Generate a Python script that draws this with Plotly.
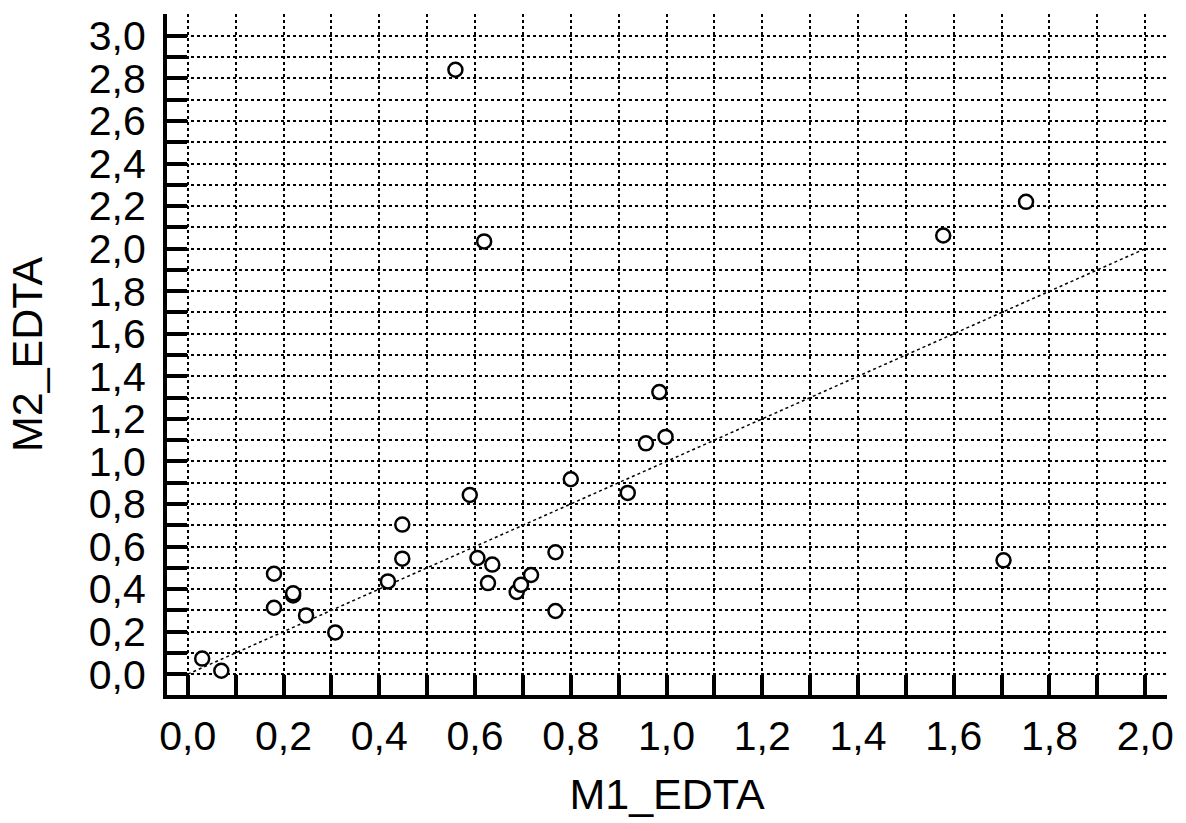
import plotly.graph_objects as go

# Paired measurements: method 1 vs method 2 (EDTA)
m1_edta = [0.03, 0.07, 0.18, 0.18, 0.22, 0.22, 0.247, 0.308, 0.418, 0.448, 0.448,
           0.559, 0.589, 0.605, 0.619, 0.627, 0.636, 0.687, 0.696, 0.717, 0.768,
           0.768, 0.80, 0.919, 0.957, 0.985, 0.998, 1.578, 1.704, 1.751]
m2_edta = [0.073, 0.016, 0.472, 0.312, 0.37, 0.38, 0.276, 0.196, 0.436, 0.543, 0.703,
           2.841, 0.842, 0.546, 2.034, 0.428, 0.515, 0.386, 0.42, 0.466, 0.573,
           0.297, 0.916, 0.852, 1.085, 1.326, 1.115, 2.062, 0.535, 2.22]

# Line of identity
identity_x = [0.0, 2.0]
identity_y = [0.0, 2.0]

# Labelled ticks every 0.2, unlabelled ticks and grid every 0.1
x_ticks = [round(i * 0.2, 1) for i in range(0, 11)]
y_ticks = [round(i * 0.2, 1) for i in range(0, 16)]
x_labels = [f"{v:.1f}".replace(".", ",") for v in x_ticks]
y_labels = [f"{v:.1f}".replace(".", ",") for v in y_ticks]

fig = go.Figure()
fig.add_trace(go.Scatter(
    x=identity_x, y=identity_y, mode="lines",
    line=dict(color="black", width=1.5, dash="dot"),
    hoverinfo="skip", showlegend=False,
))
fig.add_trace(go.Scatter(
    x=m1_edta, y=m2_edta, mode="markers",
    marker=dict(symbol="circle", size=14, color="white",
                line=dict(color="black", width=2.5)),
    showlegend=False,
))

font_family = "Liberation Sans, Arial, sans-serif"
axis_common = dict(
    showline=True, linecolor="black", linewidth=4, mirror=False,
    ticks="inside", ticklen=20, tickwidth=4, tickcolor="black",
    showgrid=True, gridcolor="black", gridwidth=1.5, griddash="dot",
    zeroline=False,
    tickfont=dict(family=font_family, size=41, color="black"),
    minor=dict(dtick=0.1, ticks="inside", ticklen=20, tickwidth=4, tickcolor="black",
               showgrid=True, gridcolor="black", gridwidth=1.5, griddash="dot"),
)

fig.update_xaxes(
    range=[-0.0435, 2.0455], tickvals=x_ticks, ticktext=x_labels,
    ticklabelstandoff=2,
    title=dict(text="M1_EDTA", font=dict(family=font_family, size=43, color="black"),
               standoff=22),
    **axis_common,
)
fig.update_yaxes(
    range=[-0.098, 3.103], tickvals=y_ticks, ticktext=y_labels,
    ticklabelstandoff=9,
    title=dict(text="M2_EDTA", font=dict(family=font_family, size=43, color="black"),
               standoff=34),
    **axis_common,
)

fig.update_layout(
    width=1186, height=823,
    margin=dict(l=167, r=12, t=14, b=123),
    plot_bgcolor="white", paper_bgcolor="white",
)

fig.write_html("out.html")
